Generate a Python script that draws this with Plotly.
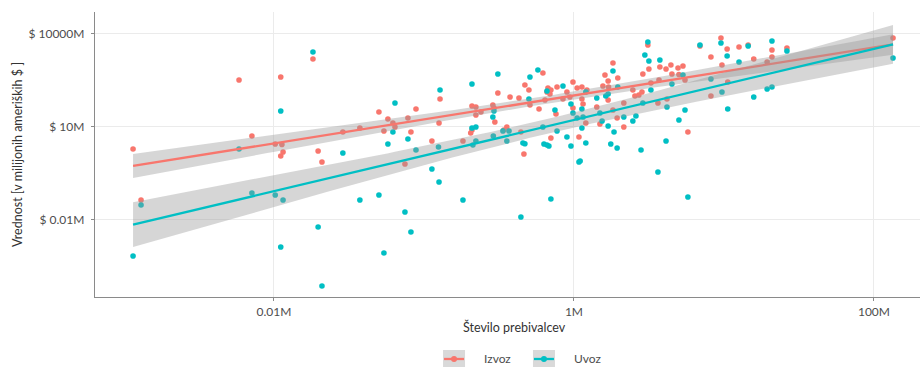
import numpy as np
import plotly.graph_objects as go

# Population (millions of people) and trade value (millions of USD) per country
izvoz_pop = [0.00115, 0.0013, 0.00585, 0.00713, 0.0102, 0.0111, 0.0113, 0.0115, 0.0111, 0.0182,
             0.0197, 0.0209, 0.0288, 0.0374, 0.0501, 0.0541, 0.0575, 0.0621, 0.0641, 0.0747,
             0.0782, 0.0819, 0.0885, 0.113, 0.126, 0.128, 0.182, 0.209, 0.209, 0.205,
             0.222, 0.222, 0.24, 0.288, 0.293, 0.297, 0.311, 0.341, 0.357, 0.375,
             0.43, 0.443, 0.464, 0.471, 0.501, 0.509, 0.585, 0.621, 0.641, 0.661,
             0.671, 0.692, 0.702, 0.702, 0.759, 0.771, 0.845, 0.898, 0.94, 0.985,
             0.985, 1.08, 1.05, 1.13, 1.13, 1.15, 1.2, 1.22, 1.42, 1.49,
             1.61, 1.56, 1.69, 1.82, 1.69, 1.7, 1.96, 1.94, 1.82, 2.15,
             2.15, 2.47, 2.55, 2.71, 2.84, 2.88, 3.11, 3.16, 3.26, 3.63,
             3.69, 3.74, 4.11, 4.17, 4.43, 4.5, 4.94, 5.01, 5.33, 5.5,
             5.75, 6.92, 8.19, 8.19, 9.55, 9.7, 10.5, 10.6, 12.6, 14.5,
             15.8, 19.4, 20.9, 20.9, 26.3, 134]
izvoz_val = [1.85, 0.042, 312, 4.86, 2.69, 389, 2.6, 1.48, 1.10, 1480,
             1.60, 0.705, 6.55, 8.81, 28.9, 7.05, 17.2, 12.8, 9.5, 0.608,
             18.5, 6.55, 36.1, 3.36, 12.8, 76.0, 3.36, 45.2, 7.6, 6.08,
             42.0, 23.2, 28.9, 48.6, 38.9, 13.8, 119, 7.6, 9.5, 88.1,
             81.8, 6.55, 1.28, 215, 148, 48.6, 36.1, 524, 70.5, 128,
             172, 110, 148, 4.2, 24.9, 185, 76, 128, 88.1, 268,
             38.9, 4.52, 172, 185, 76, 52.4, 12.8, 148, 42, 11.9,
             452, 200, 289, 1100, 70.5, 185, 361, 18.5, 33.6, 9.5,
             56.5, 148, 94.8, 102, 128, 486, 4200, 705, 249, 56.5,
             312, 818, 705, 76, 949, 486, 760, 470, 881, 312,
             6.55, 3890, 1720, 94.8, 7050, 949, 3120, 268, 3610, 4200,
             1480, 1190, 2890, 1720, 3360, 7050]

uvoz_pop = [0.00115, 0.0013, 0.00585, 0.00713, 0.0102, 0.0115, 0.0111, 0.0111, 0.0182, 0.0197,
            0.0209, 0.0288, 0.0374, 0.0501, 0.0541, 0.0575, 0.0621, 0.0641, 0.0747, 0.0782,
            0.0819, 0.0885, 0.113, 0.126, 0.128, 0.125, 0.182, 0.209, 0.209, 0.212,
            0.222, 0.222, 0.288, 0.293, 0.29, 0.311, 0.336, 0.357, 0.369, 0.443,
            0.457, 0.471, 0.501, 0.509, 0.575, 0.621, 0.631, 0.661, 0.681, 0.661,
            0.702, 0.747, 0.771, 0.845, 0.898, 0.955, 0.955, 0.985, 1.08, 1.1,
            1.05, 1.13, 1.13, 1.15, 1.2, 1.2, 1.42, 1.49, 1.54, 1.69,
            1.63, 1.69, 1.82, 1.85, 1.94, 1.76, 1.96, 2.15, 2.47, 2.59,
            2.8, 2.88, 2.97, 3.11, 3.16, 3.26, 3.63, 3.74, 4.17, 4.11,
            4.5, 5.01, 5.33, 5.5, 5.75, 6.92, 8.19, 9.55, 9.7, 10.5,
            10.6, 12.6, 14.5, 15.8, 19.4, 20.9, 20.9, 26.3, 134]
uvoz_val = [0.000655, 0.0289, 1.85, 0.0705, 0.0608, 0.042, 31.2, 0.00128, 2490, 0.00565,
            0.0000705, 1.38, 0.042, 0.0608, 0.000818, 2.69, 6.55, 56.5, 0.0172, 3.89,
            0.00389, 1.72, 0.42, 0.16, 148, 2.15, 0.042, 232, 8.81, 2.49,
            9.5, 3.36, 20, 31.2, 4.86, 486, 7.05, 3.36, 7.05, 0.0119,
            2.89, 2.75, 76, 389, 655, 9.5, 2.69, 2.49, 2.32, 138,
            0.0452, 33.6, 7.05, 200, 4.52, 2.32, 52.4, 26.9, 0.705, 0.76,
            18.5, 36.1, 8.81, 20, 2.89, 128, 81.8, 26.9, 14.8, 110,
            94.8, 10.2, 608, 6.55, 2.0, 2.69, 185, 20, 14.8, 21.5,
            1.72, 56.5, 2000, 5240, 1280, 148, 0.336, 1380, 42, 3.36,
            232, 16, 452, 33.6, 0.0524, 4200, 336, 4860, 128, 1850,
            36.1, 1190, 3890, 88.1, 160, 5650, 185, 2690, 1600]

x_ticks = [0.01, 1, 100]
x_tick_labels = ["0.01M", "1M", "100M"]
y_ticks = [0.01, 10, 10000]
y_tick_labels = ["$ 0.01M", "$ 10M", "$ 10000M"]

series = [
    ("Izvoz", izvoz_pop, izvoz_val, "#F8766D"),
    ("Uvoz", uvoz_pop, uvoz_val, "#00BFC4"),
]

FONT = "Lato"
TEXT_GREY = "#4D4D4D"
AXIS_GREY = "#8A8A8A"
BAND_FILL = "rgba(153,153,153,0.4)"


def linear_fit_band(pop, val, n_grid=120, t_crit=1.98):
    """Least-squares line in log-log space with a 95% confidence band."""
    x = np.log10(np.asarray(pop, dtype=float))
    y = np.log10(np.asarray(val, dtype=float))
    n = len(x)
    slope, intercept = np.polyfit(x, y, 1)
    resid = y - (intercept + slope * x)
    s = np.sqrt(np.sum(resid ** 2) / (n - 2))
    xbar = x.mean()
    sxx = np.sum((x - xbar) ** 2)
    grid = np.linspace(x.min(), x.max(), n_grid)
    fit = intercept + slope * grid
    se = s * np.sqrt(1.0 / n + (grid - xbar) ** 2 / sxx)
    return 10 ** grid, 10 ** fit, 10 ** (fit - t_crit * se), 10 ** (fit + t_crit * se)


fig = go.Figure()

# scatter points
for name, pop, val, col in series:
    fig.add_trace(go.Scatter(
        x=pop, y=val, mode="markers", name=name, showlegend=False,
        marker=dict(color=col, size=5.6, line=dict(width=0)),
        hoverinfo="x+y+name",
    ))

# regression bands and lines, one group after the other
for name, pop, val, col in series:
    gx, gfit, glo, ghi = linear_fit_band(pop, val)
    fig.add_trace(go.Scatter(
        x=np.concatenate([gx, gx[::-1]]),
        y=np.concatenate([ghi, glo[::-1]]),
        mode="lines", fill="toself", fillcolor=BAND_FILL,
        line=dict(width=0), showlegend=False, hoverinfo="skip",
    ))
    fig.add_trace(go.Scatter(
        x=gx, y=gfit, mode="lines", showlegend=False,
        line=dict(color=col, width=2.3), hoverinfo="skip",
    ))

axis_common = dict(
    type="log",
    showgrid=True, gridcolor="#EBEBEB", gridwidth=1,
    zeroline=False,
    showline=True, linecolor=AXIS_GREY, linewidth=1.3,
    ticks="outside", ticklen=3, tickwidth=1, tickcolor=AXIS_GREY,
    tickfont=dict(family=FONT, size=12, color=TEXT_GREY),
)

fig.update_xaxes(
    **axis_common,
    range=[-3.193, 2.307],
    tickvals=x_ticks, ticktext=x_tick_labels,
)
fig.update_yaxes(
    **axis_common,
    range=[-4.506, 4.687],
    tickvals=y_ticks, ticktext=y_tick_labels,
    ticklabelstandoff=4,
)

# axis titles
annotations = [
    dict(text="Število prebivalcev", x=0.508, y=-0.105, xref="paper", yref="paper",
         xanchor="center", yanchor="middle", showarrow=False,
         font=dict(family=FONT, size=12.5, color="#333333")),
    dict(text="Vrednost [v milijonih ameriških $ ]", x=-0.094, y=0.5,
         xref="paper", yref="paper", textangle=-90,
         xanchor="center", yanchor="middle", showarrow=False,
         font=dict(family=FONT, size=12.5, color="#333333")),
]

# legend drawn below the panel: grey key, coloured line and dot, label
shapes = []
legend_y = -0.2175
legend_keys = [(0.4352, 0.4691), (0.5442, 0.5782)]
for (kx, tx), (name, _, _, col) in zip(legend_keys, series):
    shapes.append(dict(type="rect", xref="paper", yref="paper",
                       xsizemode="pixel", ysizemode="pixel",
                       xanchor=kx, yanchor=legend_y,
                       x0=-11, x1=11, y0=-9, y1=9,
                       fillcolor="#D9D9D9", line=dict(width=0), layer="above"))
    shapes.append(dict(type="line", xref="paper", yref="paper",
                       xsizemode="pixel", ysizemode="pixel",
                       xanchor=kx, yanchor=legend_y,
                       x0=-10, x1=10, y0=0, y1=0,
                       line=dict(color=col, width=2.3), layer="above"))
    shapes.append(dict(type="circle", xref="paper", yref="paper",
                       xsizemode="pixel", ysizemode="pixel",
                       xanchor=kx, yanchor=legend_y,
                       x0=-3, x1=3, y0=-3, y1=3,
                       fillcolor=col, line=dict(width=0), layer="above"))
    annotations.append(dict(text=name, x=tx, y=legend_y, xref="paper", yref="paper",
                            xanchor="left", yanchor="middle", showarrow=False,
                            font=dict(family=FONT, size=12, color=TEXT_GREY)))

fig.update_layout(
    width=920, height=367,
    margin=dict(l=95, r=0, t=12, b=70),
    paper_bgcolor="white", plot_bgcolor="white",
    showlegend=False,
    annotations=annotations,
    shapes=shapes,
    font=dict(family=FONT),
)

fig.write_html("out.html")
